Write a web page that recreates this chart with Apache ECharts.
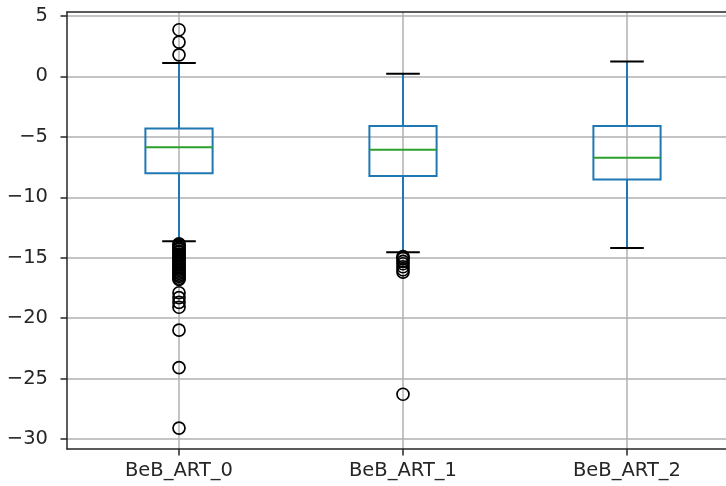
<!DOCTYPE html>
<html><head><meta charset="utf-8">
<script src="https://cdn.jsdelivr.net/npm/echarts@6/dist/echarts.min.js"></script>
<style>html,body{margin:0;padding:0;background:#fff}#c{width:726px;height:486px}</style>
</head><body><div id="c"></div>
<script>
const categories = ['BeB_ART_0', 'BeB_ART_1', 'BeB_ART_2'];
const whiskerLow = [-13.64, -14.55, -14.19];
const q1 = [-8.02, -8.24, -8.54];
const median = [-5.87, -6.06, -6.72];
const q3 = [-4.3, -4.1, -4.1];
const whiskerHigh = [1.1, 0.22, 1.24];
const outliers0 = [3.86, 2.84, 1.79,
  -13.85, -13.95, -14.05, -14.2, -14.3, -14.45, -14.55, -14.7, -14.8, -14.95, -15.05, -15.2, -15.3, -15.45,
  -15.55, -15.7, -15.8, -15.95, -16.05, -16.2, -16.3, -16.45, -16.55, -16.7, -16.8,
  -17.9, -18.3, -18.7, -19.1, -21.0, -24.1, -29.1];
const outliers1 = [-14.9, -15.05, -15.3, -15.5, -15.75, -16.0, -16.2, -26.3];
const outliers2 = [];
const yTicks = [5, 0, -5, -10, -15, -20, -25, -30];

const boxData = categories.map((c, i) => [i + 1, whiskerLow[i], q1[i], median[i], q3[i], whiskerHigh[i]]);
const flierData = [];
[outliers0, outliers1, outliers2].forEach((arr, i) => arr.forEach(v => flierData.push([i + 1, v])));

const font = { fontFamily: 'DejaVu Sans', fontSize: 19.5, color: '#262626' };
const spine = { color: '#262626', width: 1.5 };
const chart = echarts.init(document.getElementById('c'), null, { renderer: 'canvas' });
chart.setOption({
  animation: false,
  grid: { left: 67, right: 0, top: 12, bottom: 37 },
  xAxis: [{
    type: 'value', min: 0.5, max: 0.5 + 659 / 224,
    axisLine: { show: true, onZero: false, lineStyle: spine },
    axisTick: { show: true, length: 6.5, customValues: [1, 2, 3], lineStyle: spine },
    axisLabel: Object.assign({ customValues: [1, 2, 3], margin: 12, showMaxLabel: true, formatter: v => categories[Math.round(v) - 1] }, font),
    splitLine: { show: true, lineStyle: { color: '#b0b0b0', width: 1.5 } }
  }, {
    type: 'value', min: 0.5, max: 0.5 + 659 / 224, position: 'top',
    axisLine: { show: true, onZero: false, lineStyle: spine },
    axisTick: { show: false }, axisLabel: { show: false }, splitLine: { show: false }
  }],
  yAxis: {
    type: 'value', min: -30.83, max: 5.33,
    axisLine: { show: true, onZero: false, lineStyle: spine },
    axisTick: { show: true, length: 6.5, customValues: yTicks, lineStyle: spine },
    axisLabel: Object.assign({ customValues: yTicks, margin: 19, formatter: v => String(v).replace('-', '\u2212') }, font),
    splitLine: { show: true, lineStyle: { color: '#b0b0b0', width: 1.5 } }
  },
  series: [{
    type: 'custom',
    data: boxData,
    encode: { x: 0, y: [1, 2, 3, 4, 5] },
    z: 3,
    renderItem: function (params, api) {
      const x = api.value(0);
      const lo = api.coord([x, api.value(1)]);
      const b1 = api.coord([x, api.value(2)]);
      const md = api.coord([x, api.value(3)]);
      const b3 = api.coord([x, api.value(4)]);
      const hi = api.coord([x, api.value(5)]);
      const hw = api.size([0.3, 0])[0] / 2;
      const cw = hw / 2;
      const cx = lo[0];
      const lw = 2;
      const blue = { stroke: '#1f77b4', lineWidth: lw, fill: null };
      return {
        type: 'group', children: [
          { type: 'line', shape: { x1: cx, y1: lo[1], x2: cx, y2: b1[1] }, style: blue },
          { type: 'line', shape: { x1: cx, y1: b3[1], x2: cx, y2: hi[1] }, style: blue },
          { type: 'rect', shape: { x: cx - hw, y: b3[1], width: 2 * hw, height: b1[1] - b3[1] }, style: { stroke: '#1f77b4', lineWidth: lw, fill: 'rgba(0,0,0,0)' } },
          { type: 'line', shape: { x1: cx - hw, y1: md[1], x2: cx + hw, y2: md[1] }, style: { stroke: '#2ca02c', lineWidth: lw } },
          { type: 'line', shape: { x1: cx - cw, y1: lo[1], x2: cx + cw, y2: lo[1] }, style: { stroke: '#000', lineWidth: lw } },
          { type: 'line', shape: { x1: cx - cw, y1: hi[1], x2: cx + cw, y2: hi[1] }, style: { stroke: '#000', lineWidth: lw } }
        ]
      };
    }
  }, {
    type: 'scatter',
    data: flierData,
    z: 4,
    symbol: 'circle',
    symbolSize: 12,
    itemStyle: { color: 'rgba(0,0,0,0)', borderColor: '#000', borderWidth: 1.7, opacity: 1 }
  }]
});
</script></body></html>
